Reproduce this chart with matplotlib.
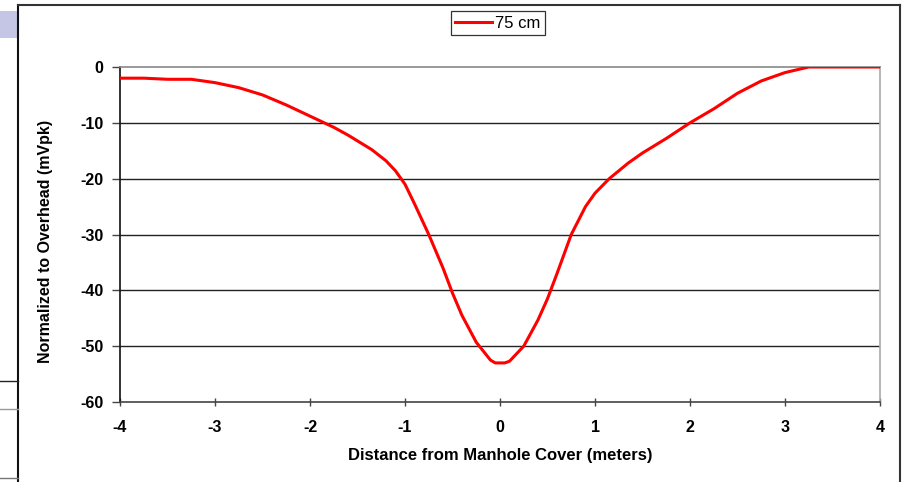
import matplotlib
matplotlib.use("Agg")
import matplotlib.pyplot as plt
from matplotlib.lines import Line2D
from matplotlib.patches import Rectangle

plt.rcParams['font.family'] = ['Liberation Sans', 'DejaVu Sans']

# Data
distance = [-4.0, -3.75, -3.5, -3.25, -3.0, -2.75, -2.5, -2.25, -2.0, -1.75, -1.6, -1.35,
            -1.2, -1.1, -1.0, -0.9, -0.75, -0.6, -0.5, -0.4, -0.25, -0.1, -0.05, 0.05, 0.1,
            0.25, 0.4, 0.5, 0.6, 0.75, 0.9, 1.0, 1.15, 1.35, 1.5, 1.75, 2.0, 2.25, 2.5,
            2.75, 3.0, 3.25, 3.5, 3.75, 4.0]
value_75cm = [-2.0, -2.0, -2.2, -2.2, -2.8, -3.7, -5.0, -6.8, -8.8, -10.8, -12.2, -14.8,
              -16.8, -18.6, -21.0, -24.5, -30.0, -36.0, -40.5, -44.5, -49.3, -52.5, -53.0,
              -53.0, -52.7, -50.0, -45.3, -41.5, -37.0, -30.0, -25.0, -22.6, -20.0, -17.2,
              -15.4, -12.8, -10.0, -7.5, -4.7, -2.5, -1.0, 0.0, 0.0, 0.0, 0.0]
series_label = "75 cm"
x_ticks = [-4, -3, -2, -1, 0, 1, 2, 3, 4]
y_ticks = [0, -10, -20, -30, -40, -50, -60]

W, H = 905, 482
fig = plt.figure(figsize=(W / 100, H / 100), dpi=100)
fig.patch.set_facecolor('white')

ax = fig.add_axes([120 / W, 1 - 402 / H, 760 / W, 335 / H])
ax.plot(distance, value_75cm, color='#ff0000', lw=2.2, label=series_label, zorder=3,
        solid_joinstyle='round')

ax.set_xlim(-4, 4)
ax.set_ylim(-60, 0)
ax.set_xticks(x_ticks)
ax.set_yticks(y_ticks)
ax.set_xticklabels([str(t) for t in x_ticks], fontsize=11.5, fontweight='bold')
ax.set_yticklabels([str(t) for t in y_ticks], fontsize=11.5, fontweight='bold')

for v in [-10, -20, -30, -40, -50]:
    ax.axhline(v, color='#222222', lw=1.0, zorder=1)

ax.spines['left'].set_color('#111111')
ax.spines['left'].set_linewidth(1.2)
ax.spines['bottom'].set_color('#444444')
ax.spines['bottom'].set_linewidth(1.2)
ax.spines['top'].set_color('#888888')
ax.spines['top'].set_linewidth(1.2)
ax.spines['right'].set_color('#aaaaaa')
ax.spines['right'].set_linewidth(1.2)

ax.tick_params(axis='y', direction='out', length=6, width=1, color='#444444', pad=6)
ax.tick_params(axis='x', direction='inout', length=6, width=1, color='#444444', pad=10)

ax.set_xlabel("Distance from Manhole Cover (meters)", fontsize=12, fontweight='bold', labelpad=9)
ax.set_ylabel("Normalized to Overhead (mVpk)", fontsize=11.5, fontweight='bold')
ax.yaxis.set_label_coords((53 - 120) / 760, (402 - 241) / 335)

leg = fig.legend(loc='center', bbox_to_anchor=(498 / W, 1 - 23 / H), frameon=True,
                 fancybox=False, edgecolor='black', fontsize=12, handlelength=2.2,
                 handletextpad=0.2, borderpad=0.25)
leg.get_frame().set_linewidth(0.9)

# Outer chart frame
fig.add_artist(Line2D([18 / W, 18 / W], [0, 1 - 5 / H], color='#111111', lw=1.5))
fig.add_artist(Line2D([18 / W, 900 / W], [1 - 5 / H, 1 - 5 / H], color='#333333', lw=1.5))
fig.add_artist(Line2D([900 / W, 900 / W], [0, 1 - 5 / H], color='#333333', lw=1.5))
# Left-edge artifacts
fig.add_artist(Rectangle((0, 1 - 38 / H), 17 / W, 27 / H, color='#c5c5e6', lw=0))
fig.add_artist(Line2D([0, 18 / W], [1 - 381 / H, 1 - 381 / H], color='#222222', lw=1.0))
fig.add_artist(Line2D([0, 18 / W], [1 - 409 / H, 1 - 409 / H], color='#999999', lw=1.0))
fig.add_artist(Line2D([0, 18 / W], [1 - 478 / H, 1 - 478 / H], color='#777777', lw=1.0))

fig.savefig("out.png", dpi=100)
